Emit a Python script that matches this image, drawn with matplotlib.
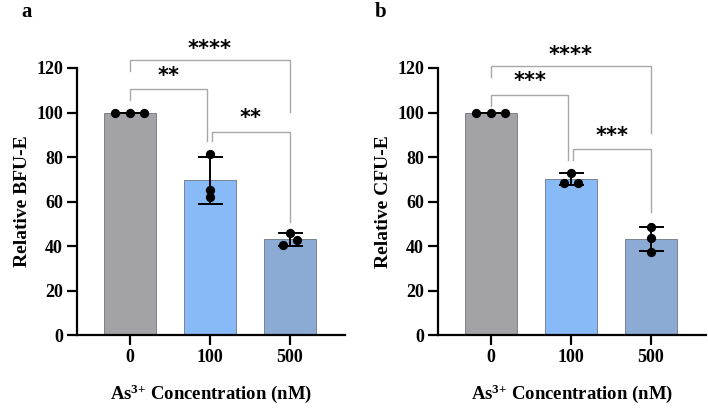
import matplotlib
matplotlib.use('Agg')
import matplotlib.pyplot as plt
import numpy as np

plt.rcParams['font.family'] = ['Liberation Serif', 'DejaVu Serif']
plt.rcParams['font.weight'] = 'bold'
plt.rcParams['mathtext.fontset'] = 'custom'
plt.rcParams['mathtext.rm'] = 'Liberation Serif:bold'
plt.rcParams['mathtext.bf'] = 'Liberation Serif:bold'
plt.rcParams['mathtext.it'] = 'Liberation Serif:bold'

# donnees
doses = ['0', '100', '500']
couleurs = ['#A3A2A7', '#88BAF7', '#8BABD4']

bfu_pts = [[100, 100, 100], [81.5, 65, 62], [46, 40.5, 42.5]]
bfu_dx = [[-0.18, 0, 0.18], [0, 0, 0], [0, -0.09, 0.09]]
cfu_pts = [[100, 100, 100], [73, 68.5, 68.5], [48.5, 43.5, 37.5]]
cfu_dx = [[-0.18, 0, 0.18], [0, -0.09, 0.09], [0, 0, 0]]

# comparaisons : (i, j, sommet, bas gauche, bas droite, hauteur texte, etoiles)
bfu_sig = [(0, 2, 123.6, 118.6, 100.2, 128.5, '****'),
           (0, 1, 110.5, 105.6, 87.2, 116.5, '**'),
           (1, 2, 91.2, 87.2, 50.8, 97.5, '**')]
cfu_sig = [(0, 2, 121.0, 116.0, 90.8, 126.0, '****'),
           (0, 1, 107.9, 102.9, 78.7, 114.0, '***'),
           (1, 2, 83.6, 78.7, 55.3, 89.5, '***')]

fig = plt.figure(figsize=(7.08, 4.2), dpi=100)


def panneau(ax, pts, dx, sig, ylabel):
    pts = np.array(pts)
    moy = pts.mean(axis=1)
    sd = pts.std(axis=1, ddof=1)
    x = np.arange(len(doses))
    ax.bar(x, moy, width=0.65, color=couleurs, edgecolor='#6E7480', linewidth=0.6, zorder=1)
    ax.errorbar(x, moy, yerr=sd, fmt='none', ecolor='black', elinewidth=1.4,
                capsize=9, capthick=1.4, zorder=3)
    for k in range(len(doses)):
        ax.scatter(x[k] + np.array(dx[k]), pts[k], s=32, color='black', zorder=4, clip_on=False)
    for (i, j, top, bl, br, ty, txt) in sig:
        xi = i + (0.03 if i == 1 else 0)
        xj = j - (0.03 if (i == 0 and j == 1) else 0)
        ax.plot([xi, xi, xj, xj], [bl, top, top, br], color='#A8A8A8', lw=1.0,
                clip_on=False, zorder=2)
        ax.text((xi + xj) / 2, ty, txt, ha='center', va='center', fontsize=15,
                fontweight='bold', family='DejaVu Sans', clip_on=False)
    ax.set_xlim(-0.66, 2.69)
    ax.set_ylim(0, 120)
    ax.set_yticks(range(0, 121, 20))
    ax.set_xticks(x)
    ax.set_xticklabels(doses)
    for s in ['top', 'right']:
        ax.spines[s].set_visible(False)
    for s in ['left', 'bottom']:
        ax.spines[s].set_linewidth(1.6)
    ax.tick_params(width=1.6, length=7, labelsize=13, pad=3)
    ax.set_ylabel(ylabel, fontsize=14, fontweight='bold', labelpad=4)
    ax.set_xlabel(r'As$^{\mathbf{3{+}}}$ Concentration (nM)', fontsize=13.5,
                  fontweight='bold', labelpad=12)


ax1 = fig.add_axes([77 / 708, 1 - 335 / 420, 268 / 708, 267 / 420])
panneau(ax1, bfu_pts, bfu_dx, bfu_sig, 'Relative BFU-E')
ax2 = fig.add_axes([438 / 708, 1 - 335 / 420, 268 / 708, 267 / 420])
panneau(ax2, cfu_pts, cfu_dx, cfu_sig, 'Relative CFU-E')

fig.text(21 / 708, 1 - 12 / 420, 'a', fontsize=15, fontweight='bold', va='center')
fig.text(375 / 708, 1 - 12 / 420, 'b', fontsize=15, fontweight='bold', va='center')

fig.savefig('out.png', dpi=100)
